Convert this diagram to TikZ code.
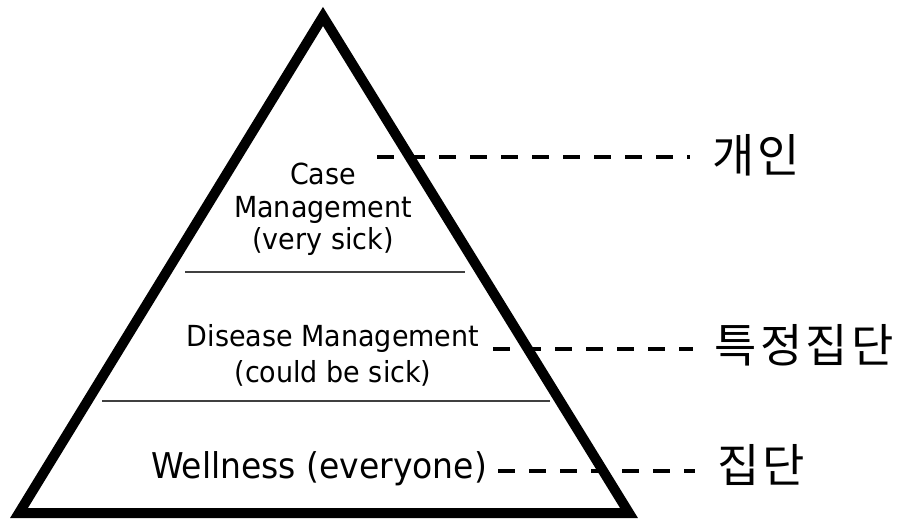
\documentclass[tikz,border=0pt]{standalone}
\usepackage{fontspec}
\setmainfont{DejaVu Sans}[FakeStretch=0.93]
\newfontfamily\kor{Noto Sans CJK KR}[LetterSpace=7]

\tikzset{
	tier/.style={anchor=base, inner sep=0pt, font=\fontsize{29}{34}\selectfont},
	base tier/.style={anchor=base, inner sep=0pt, font=\fontsize{35.5}{40}\selectfont},
	group/.style={inner sep=0pt, outer xsep=22pt, font=\kor\fontsize{46}{50}\selectfont},
	leader/.style={line width=3.5pt, dash pattern=on 17pt off 14pt},
	divider/.style={line width=1.2pt, black!75}
}

\begin{document}
\begin{tikzpicture}[x=1pt,y=-1pt]
	\useasboundingbox (0,0) rectangle (905,521);
	
	% Pyramid outline
	\draw[line width=10pt, line join=miter] (323,16.5) -- (629,513) -- (19,513) -- cycle;
	
	% Dividers between the tiers
	\draw[divider] (185,272) -- (465,272);
	\draw[divider] (102,401) -- (550,401);
	
	% Top tier
	\node[tier] (case) at (323,185) {Case};
	\node[tier] (casemgmt) at (323,218) {Management};
	\node[tier] (verysick) at (323,250) {(very sick)};
	
	% Middle tier
	\node[tier] (disease) at (333,346) {Disease Management};
	\node[tier] (couldbe) at (333,382) {(could be sick)};
	
	% Bottom tier
	\node[base tier] (wellness) at (319,478) {Wellness (everyone)};
	
	% Korean labels
	\node[group] (gaein) at (756,155) {개인};
	\node[group] (teukjeong) at (804,345) {특정집단};
	\node[group] (jipdan) at (761,465) {집단};
	
	% Leader lines
	\coordinate (c1) at (377,157);
	\coordinate (c2) at (493,349);
	\coordinate (c3) at (498,471);
	\draw[leader] (c1) -- (c1 -| gaein.west);
	\draw[leader] (c2) -- (c2 -| teukjeong.west);
	\draw[leader] (c3) -- (c3 -| jipdan.west);
\end{tikzpicture}
\end{document}
